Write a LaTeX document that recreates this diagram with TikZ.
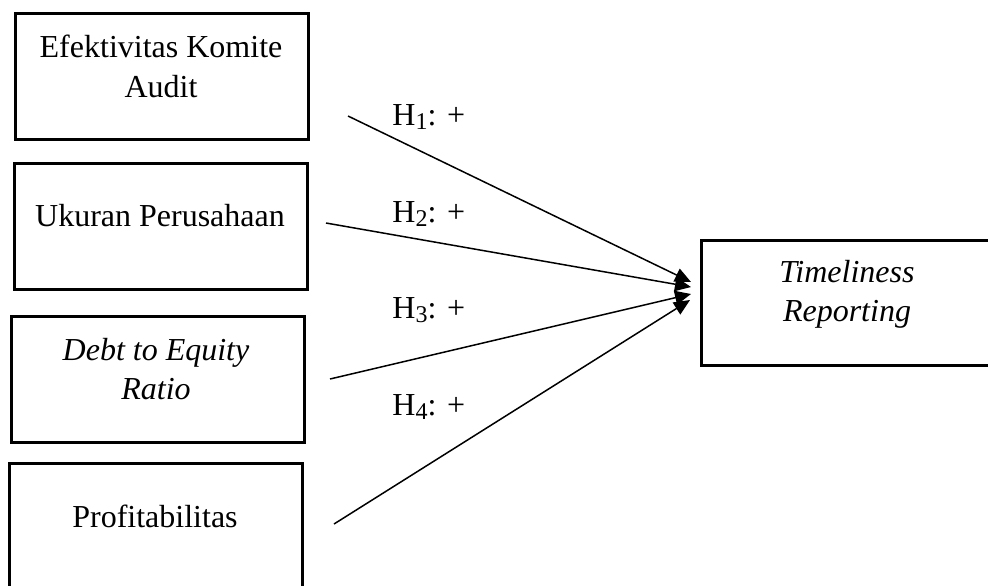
\documentclass[tikz,border=0pt]{standalone}
\usepackage{fontspec}
\setmainfont{Liberation Serif}
\usetikzlibrary{arrows.meta}
\newcommand{\hsub}[1]{\raisebox{-0.3ex}{\fontsize{12}{12}\selectfont #1}}
\begin{document}
\begin{tikzpicture}[x=0.5pt,y=-0.5pt,
  box/.style={draw=black,line width=1.5pt,minimum width=146.5pt,minimum height=63pt,inner sep=0pt},
  txt/.style={font=\fontsize{16}{20}\selectfont,anchor=base,inner sep=0pt},
  lbl/.style={font=\fontsize{16}{20}\selectfont,anchor=base west,inner sep=0pt},
  link/.style={line width=0.75pt,-{Triangle[length=8pt,width=7pt]}}]
\useasboundingbox (0,0) rectangle (988,585);
\clip (0,0) rectangle (988,585);
% boxes
\node[box] (b1) at (161.5,76) {};
\node[box] (b2) at (160.5,226) {};
\node[box] (b3) at (157.5,379.5) {};
\node[box] (b4) at (155.5,526.5) {};
\node[box,minimum width=146pt,minimum height=62.5pt] (t) at (847,302.5) {};
% texts
\node[txt] (b1a) at (161,57) {Efektivitas Komite};
\node[txt] (b1b) at (161,97) {Audit};
\node[txt] (b2a) at (160,226) {Ukuran Perusahaan};
\node[txt] (b3a) at (156,360) {\itshape Debt to Equity};
\node[txt] (b3b) at (156,399) {\itshape Ratio};
\node[txt] (b4a) at (155,527) {Profitabilitas};
\node[txt] (ta) at (847,282) {\itshape Timeliness};
\node[txt] (tb) at (847,321) {\itshape Reporting};
% labels
\node[lbl] (h1) at (392,125) {H\hsub{1}: +};
\node[lbl] (h2) at (392,222) {H\hsub{2}: +};
\node[lbl] (h3) at (392,318) {H\hsub{3}: +};
\node[lbl] (h4) at (392,415) {H\hsub{4}: +};
% connector ends
\coordinate (s1) at (348,116);
\coordinate (s2) at (326,223);
\coordinate (s3) at (330,379);
\coordinate (s4) at (334,524);
\coordinate (e1) at (691,282);
\coordinate (e2) at (691,287);
\coordinate (e3) at (691,294);
\coordinate (e4) at (690,300);
\draw[link] (s1) -- (e1);
\draw[link] (s2) -- (e2);
\draw[link] (s3) -- (e3);
\draw[link] (s4) -- (e4);
\end{tikzpicture}
\end{document}
